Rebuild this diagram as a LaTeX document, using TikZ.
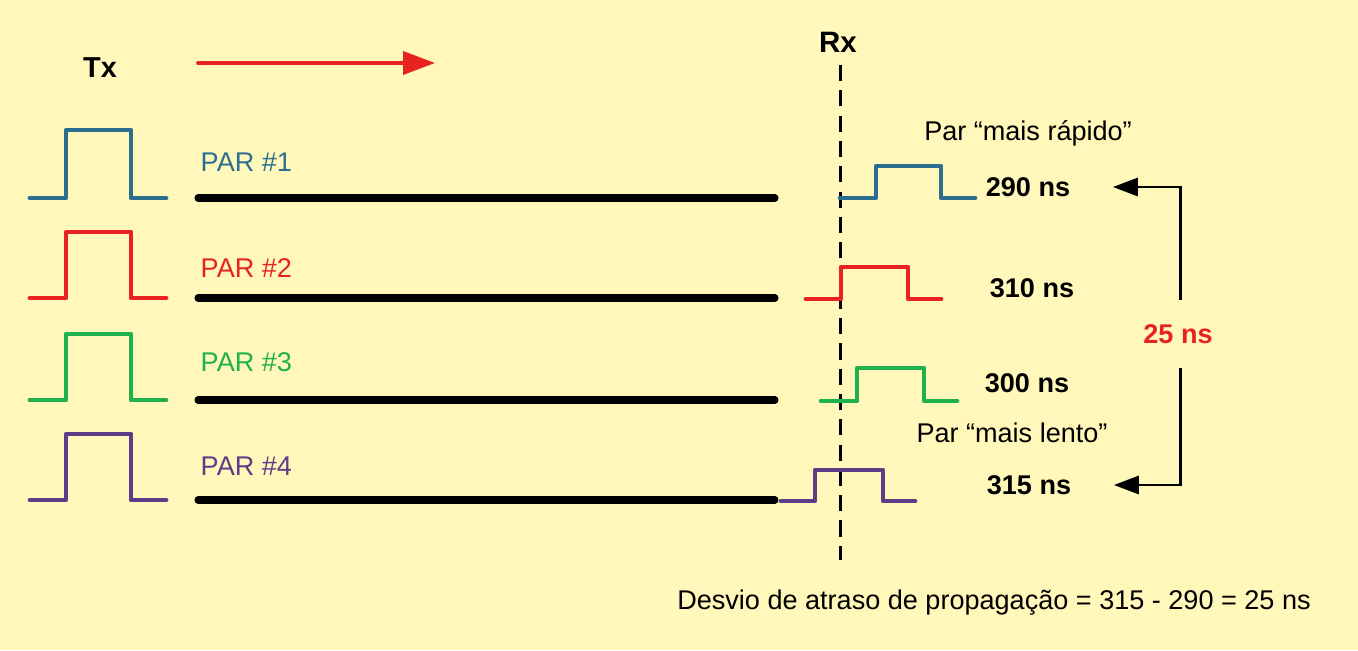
\documentclass[tikz,border=0pt]{standalone}
\usepackage{fontspec}
\setmainfont{Liberation Sans}
\usetikzlibrary{arrows.meta}
\definecolor{bgyellow}{HTML}{FFF8BA}
\definecolor{parblue}{HTML}{2B6E8F}
\definecolor{parred}{HTML}{E8231F}
\definecolor{pargreen}{HTML}{1FB14E}
\definecolor{parpurple}{HTML}{5C3D87}
\begin{document}
\begin{tikzpicture}[
  txt/.style={font=\fontsize{7.7pt}{9pt}\selectfont, inner sep=0pt},
  bold/.style={font=\fontsize{7.7pt}{9pt}\selectfont\bfseries, inner sep=0pt},
  pulse/.style={line width=1.35pt, line cap=round, line join=round},
  cable/.style={line width=2pt, line cap=round},
  flow/.style={-{Triangle[length=0.32cm, width=0.23cm]}, line width=1.1pt, parred, line cap=round},
  skewarrow/.style={-{Triangle[length=0.25cm, width=0.18cm]}, line width=0.85pt},
  rxline/.style={line width=0.85pt, dash pattern=on 4.6pt off 2.6pt}
]
\fill[bgyellow] (0,0) rectangle (13.58,-6.5);
\useasboundingbox (0,0) rectangle (13.58,-6.5);
% Tx / Rx
\node[bold, font=\fontsize{8.2pt}{9pt}\selectfont\bfseries] (tx) at (1.00,-0.68) {Tx};
\node[bold, font=\fontsize{8.4pt}{9pt}\selectfont\bfseries] (rx) at (8.38,-0.42) {Rx};
\coordinate (flowstart) at (1.98,-0.63);
\coordinate (flowend) at (4.35,-0.63);
\draw[flow] (flowstart) -- (flowend);
\coordinate (rxtop) at (8.40,-0.65);
\coordinate (rxbottom) at (8.40,-5.60);
\draw[rxline] (rxtop) -- (rxbottom);
% transmitted pulses
\draw[pulse, parblue] (0.30,-1.98) -| ++(0.36,0.68) -| ++(0.65,-0.68) -- ++(0.35,0);
\draw[pulse, parred] (0.30,-2.98) -| ++(0.36,0.66) -| ++(0.65,-0.66) -- ++(0.35,0);
\draw[pulse, pargreen] (0.30,-4.00) -| ++(0.36,0.66) -| ++(0.65,-0.66) -- ++(0.35,0);
\draw[pulse, parpurple] (0.30,-5.00) -| ++(0.36,0.66) -| ++(0.65,-0.66) -- ++(0.35,0);
% pairs
\node[txt, anchor=west, text=parblue] (par1) at (2.00,-1.62) {PAR \#1};
\node[txt, anchor=west, text=parred] (par2) at (2.00,-2.68) {PAR \#2};
\node[txt, anchor=west, text=pargreen] (par3) at (2.00,-3.62) {PAR \#3};
\node[txt, anchor=west, text=parpurple] (par4) at (2.00,-4.66) {PAR \#4};
\draw[cable] (1.98,-1.98) -- (7.75,-1.98);
\draw[cable] (1.98,-2.98) -- (7.75,-2.98);
\draw[cable] (1.98,-4.00) -- (7.75,-4.00);
\draw[cable] (1.98,-5.00) -- (7.75,-5.00);
% received pulses
\draw[pulse, parblue] (8.40,-1.98) -| ++(0.36,0.32) -| ++(0.65,-0.32) -- ++(0.34,0);
\draw[pulse, parred] (8.06,-2.99) -| ++(0.35,0.32) -| ++(0.67,-0.32) -- ++(0.33,0);
\draw[pulse, pargreen] (8.21,-4.01) -| ++(0.36,0.33) -| ++(0.67,-0.33) -- ++(0.33,0);
\draw[pulse, parpurple] (7.81,-5.01) -| ++(0.34,0.31) -| ++(0.68,-0.31) -- ++(0.32,0);
% delays
\node[txt] (fast) at (10.28,-1.33) {Par “mais rápido”};
\node[bold] (t1) at (10.28,-1.87) {290 ns};
\node[bold] (t2) at (10.32,-2.88) {310 ns};
\node[bold] (t3) at (10.27,-3.83) {300 ns};
\node[txt] (slow) at (10.12,-4.33) {Par “mais lento”};
\node[bold] (t4) at (10.29,-4.85) {315 ns};
\node[bold, text=parred, minimum height=0.67cm] (skew) at (11.78,-3.34) {25 ns};
\draw[skewarrow, shorten >=0.42cm] ([xshift=0.02cm]skew.north) |- (t1.east);
\draw[skewarrow, shorten >=0.42cm] ([xshift=0.02cm]skew.south) |- (t4.east);
\node[txt] (note) at (9.94,-6.03) {Desvio de atraso de propagação = 315 - 290 = 25 ns};
\end{tikzpicture}
\end{document}
